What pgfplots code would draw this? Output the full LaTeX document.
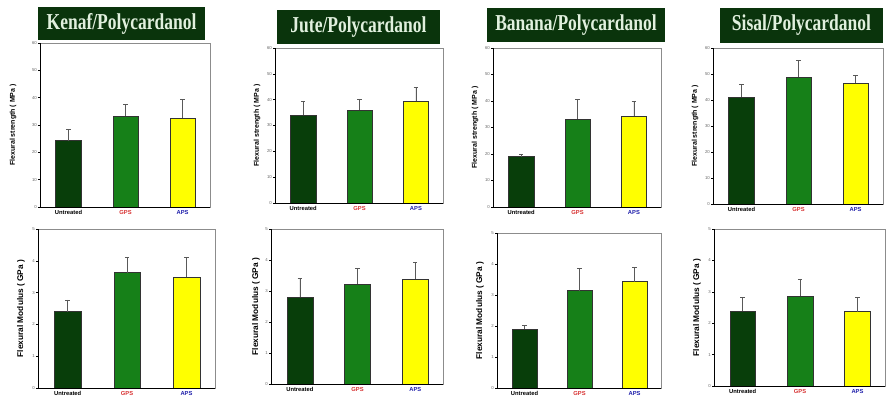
\documentclass[border=0pt]{standalone}
\usepackage{fontspec}
\setmainfont{Liberation Sans}
\newfontfamily\titlefont{Liberation Serif}
\usepackage{graphicx}
\usepackage{pgfplots}
\pgfplotsset{compat=1.18}
\newlength{\ylabshift}
\definecolor{dgreen}{RGB}{8,62,10}
\definecolor{mgreen}{RGB}{22,128,24}
\definecolor{byellow}{RGB}{255,255,0}
\definecolor{titlebg}{RGB}{10,52,12}
\definecolor{titletxt}{RGB}{225,240,222}
\definecolor{gpsred}{RGB}{215,50,50}
\definecolor{apsblue}{RGB}{30,30,170}
\pgfplotsset{
  panel/.style={
    scale only axis, anchor=south west,
    xmin=0.5, xmax=3.48, ymin=0,
    xtick={1,2,3},
    xticklabels={Untreated,\textcolor{gpsred}{GPS},\textcolor{apsblue}{APS}},
    axis line style={black!45, line width=0.5pt},
    tick align=outside, ytick pos=left, xtick pos=bottom,
    major x tick style={draw=none},
    major tick length=2pt,
    y tick style={black, line width=0.4pt},
    /pgf/number format/assume math mode=true,
    yticklabel style={font=\fontsize{4.3}{4.3}\selectfont, text=black!60, inner sep=1pt},
    xticklabel style={font=\bfseries\fontsize{5.8}{6}\selectfont, inner sep=1pt},
    every axis y label/.style={at={(axis description cs:0,0.5)}, xshift=-\ylabshift, rotate=90, anchor=center},
    ylabel style={font=\bfseries\fontsize{7}{7}\selectfont},
    ybar, bar width=0.45, bar shift=0pt,
    error bars/y dir=plus, error bars/y explicit,
    error bars/error mark=-,
    error bars/error bar style={black!65, line width=0.7pt},
    error bars/error mark options={rotate=90, black!65, line width=0.7pt, mark size=2.2pt},
    after end axis/.code={\draw[black, line width=0.9pt] (rel axis cs:0,1) -- (rel axis cs:0,0) -- (rel axis cs:1,0);},
  },
  strength/.style={panel, ymax=60, ytick={0,10,...,60}, ylabel={Flexural strength ( MPa )}},
  modulus/.style={panel, ymax=5, ytick={0,1,...,5}, ylabel={Flexural Modulus ( GPa )},
    ylabel style={font=\bfseries\fontsize{8.3}{8.3}\selectfont}},
  bu/.style={fill=dgreen, draw=black!80},
  bg/.style={fill=mgreen, draw=black!80},
  by/.style={fill=byellow, draw=black!80},
}
\tikzset{ttl/.style={fill=titlebg, inner sep=0pt, text=titletxt, font=\titlefont\bfseries\fontsize{17.5}{17.5}\selectfont}}
\begin{document}
\begin{tikzpicture}[x=1pt,y=1pt]
\useasboundingbox (0,0) rectangle (889,416);
% titles
\node[ttl, minimum width=167pt, minimum height=33pt] at (121.5,392.5) {\scalebox{1}[1.3]{Kenaf/Polycardanol}};
\node[ttl, minimum width=163pt, minimum height=34pt] at (358.5,389) {\scalebox{1}[1.3]{Jute/Polycardanol}};
\node[ttl, minimum width=178pt, minimum height=34pt] at (576,391) {\scalebox{1}[1.3]{Banana/Polycardanol}};
\node[ttl, minimum width=163pt, minimum height=35pt] at (801.5,390.5) {\scalebox{1}[1.3]{Sisal/Polycardanol}};
% Kenaf
\setlength{\ylabshift}{27pt}
\begin{axis}[strength, at={(40pt,209pt)}, width=170pt, height=164pt]
\addplot[bu] coordinates {(1,24.3) +- (0,4.0)};
\addplot[bg] coordinates {(2,33.2) +- (0,4.2)};
\addplot[by] coordinates {(3,32.6) +- (0,6.9)};
\end{axis}
\setlength{\ylabshift}{17pt}
\begin{axis}[modulus, at={(38pt,28pt)}, width=177pt, height=159pt]
\addplot[bu] coordinates {(1,2.40) +- (0,0.37)};
\addplot[bg] coordinates {(2,3.63) +- (0,0.48)};
\addplot[by] coordinates {(3,3.48) +- (0,0.63)};
\end{axis}
% Jute
\setlength{\ylabshift}{18pt}
\begin{axis}[strength, at={(275pt,213pt)}, width=168pt, height=155pt]
\addplot[bu] coordinates {(1,33.9) +- (0,5.5)};
\addplot[bg] coordinates {(2,36.1) +- (0,4.2)};
\addplot[by] coordinates {(3,39.4) +- (0,5.5)};
\end{axis}
\setlength{\ylabshift}{15pt}
\begin{axis}[modulus, at={(271pt,32pt)}, width=172pt, height=155pt]
\addplot[bu] coordinates {(1,2.80) +- (0,0.61)};
\addplot[bg] coordinates {(2,3.22) +- (0,0.51)};
\addplot[by] coordinates {(3,3.39) +- (0,0.53)};
\end{axis}
% Banana
\setlength{\ylabshift}{18pt}
\begin{axis}[strength, at={(493pt,209pt)}, width=168pt, height=159pt]
\addplot[bu] coordinates {(1,19.0) +- (0,1.0)};
\addplot[bg] coordinates {(2,33.3) +- (0,7.2)};
\addplot[by] coordinates {(3,34.4) +- (0,5.5)};
\end{axis}
\setlength{\ylabshift}{17pt}
\begin{axis}[modulus, at={(497pt,28pt)}, width=164pt, height=155pt]
\addplot[bu] coordinates {(1,1.91) +- (0,0.12)};
\addplot[bg] coordinates {(2,3.14) +- (0,0.71)};
\addplot[by] coordinates {(3,3.43) +- (0,0.47)};
\end{axis}
% Sisal
\setlength{\ylabshift}{18pt}
\begin{axis}[strength, at={(713pt,212pt)}, width=170pt, height=156pt]
\addplot[bu] coordinates {(1,41.2) +- (0,4.8)};
\addplot[bg] coordinates {(2,48.9) +- (0,6.4)};
\addplot[by] coordinates {(3,46.4) +- (0,3.2)};
\end{axis}
\setlength{\ylabshift}{17pt}
\begin{axis}[modulus, at={(714pt,30pt)}, width=171pt, height=157pt]
\addplot[bu] coordinates {(1,2.38) +- (0,0.44)};
\addplot[bg] coordinates {(2,2.87) +- (0,0.54)};
\addplot[by] coordinates {(3,2.37) +- (0,0.45)};
\end{axis}
\end{tikzpicture}
\end{document}
